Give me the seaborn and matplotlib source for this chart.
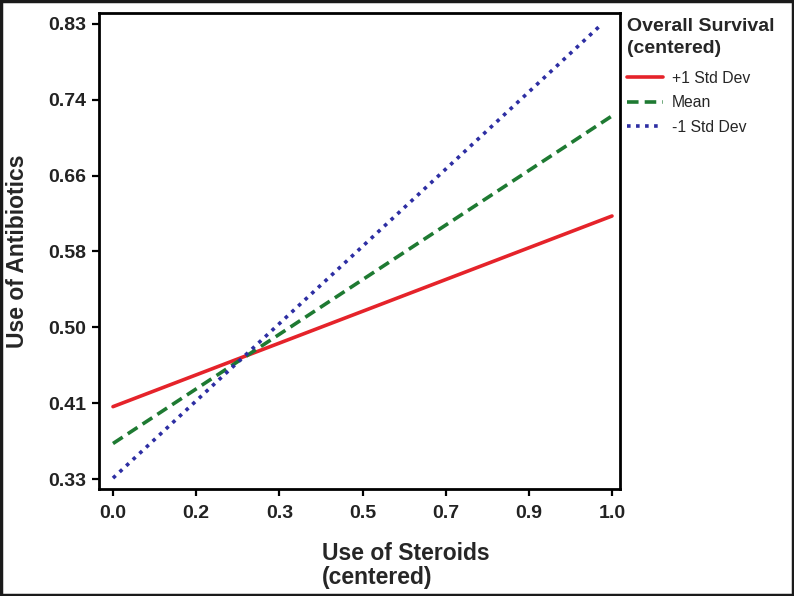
import numpy as np
import pandas as pd
import matplotlib
matplotlib.use("Agg")
import matplotlib.pyplot as plt
import seaborn as sns
from matplotlib.patches import Rectangle

# ---- data ----
survival_levels = ["+1 Std Dev", "Mean", "-1 Std Dev"]
plus_x = [0.0, 1.0]
plus_y = [0.4095, 0.619]
mean_x = [0.0, 1.0]
mean_y = [0.369, 0.729]
minus_x = [0.0, 0.974]
minus_y = [0.331, 0.827]
x_tick_labels = ["0.0", "0.2", "0.3", "0.5", "0.7", "0.9", "1.0"]
y_tick_labels = ["0.33", "0.41", "0.50", "0.58", "0.66", "0.74", "0.83"]

df = pd.DataFrame({
    "steroids": plus_x + mean_x + minus_x,
    "antibiotics": plus_y + mean_y + minus_y,
    "survival": [survival_levels[0]] * 2 + [survival_levels[1]] * 2 + [survival_levels[2]] * 2,
})

sns.set_theme(style="ticks")
plt.rcParams["font.family"] = ["Liberation Sans", "DejaVu Sans"]

fig = plt.figure(figsize=(7.94, 5.96), dpi=100)
ax = fig.add_axes([99 / 794, 1 - 488.7 / 596, 521 / 794, 475.7 / 596])

palette = {"+1 Std Dev": "#e5232a", "Mean": "#1e7a32", "-1 Std Dev": "#2d2ea3"}
dashes = {"+1 Std Dev": "", "Mean": (3.2, 1.7), "-1 Std Dev": (1.0, 1.5)}
sns.lineplot(data=df, x="steroids", y="antibiotics", hue="survival", style="survival",
             hue_order=survival_levels, style_order=survival_levels,
             palette=palette, dashes=dashes, linewidth=2.6, legend=False, ax=ax)

ax.set_xlim(-14 / 499, 1 + 8 / 499)
ax.set_ylim(0.33 - 9.7 / 910, 0.83 + 11 / 910)
ax.set_xticks(np.linspace(0, 1, len(x_tick_labels)))
ax.set_xticklabels(x_tick_labels)
ax.set_yticks(np.linspace(0.33, 0.83, len(y_tick_labels)))
ax.set_yticklabels(y_tick_labels)
for lab in ax.get_xticklabels() + ax.get_yticklabels():
    lab.set_fontweight("bold")
    lab.set_fontsize(14)
    lab.set_color("#222222")
ax.tick_params(axis="x", direction="out", length=5, width=1.6, color="black", pad=7)
ax.tick_params(axis="y", direction="out", length=5, width=1.6, color="black", pad=4)
for s in ax.spines.values():
    s.set_linewidth(2.0)
    s.set_color("black")

ax.set_xlabel("Use of Steroids\n(centered)", fontsize=16.5, fontweight="bold",
              ha="left", va="top", multialignment="left", linespacing=1.05)
ax.xaxis.set_label_coords((322 - 99) / 521, -0.112)
ax.set_ylabel("Use of Antibiotics", fontsize=16.5, fontweight="bold", va="center")
ax.yaxis.set_label_coords(-0.157, 0.5)

handles = ax.lines[:3]
leg = ax.legend(handles, survival_levels, title="Overall Survival\n(centered)",
                loc="upper left", bbox_to_anchor=(627 / 794, 1 - 18 / 596),
                bbox_transform=fig.transFigure, frameon=False, fontsize=11.3,
                title_fontproperties={"weight": "bold", "size": 14},
                handlelength=2.3, handletextpad=0.55, labelspacing=0.6,
                borderpad=0, borderaxespad=0, alignment="left")
leg.get_title().set_linespacing(1.38)
leg._legend_box.sep = 10

fig.patches.append(Rectangle((0.0015, 0.002), 0.997, 0.996, transform=fig.transFigure,
                             fill=False, edgecolor="#1a1a1a", linewidth=2.5))

fig.savefig("out.png", dpi=100)
